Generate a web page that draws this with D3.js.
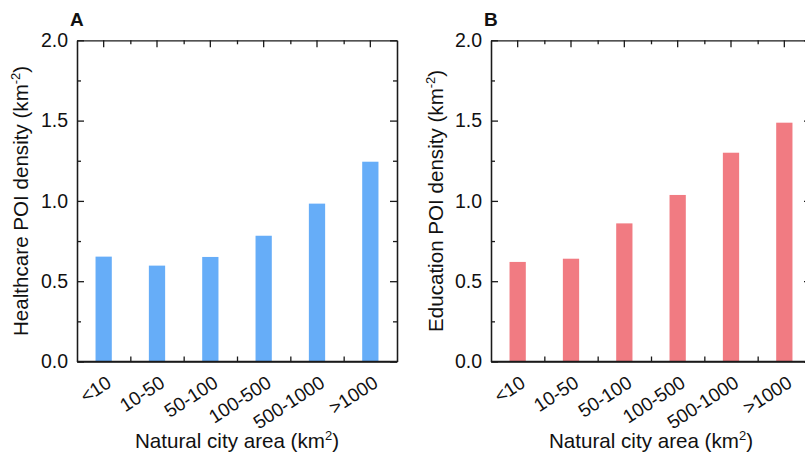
<!DOCTYPE html>
<html>
<head>
<meta charset="utf-8">
<script src="https://cdn.jsdelivr.net/npm/d3@7"></script>
<style>
  html, body { margin: 0; padding: 0; background: #fff; }
  svg { display: block; font-family: "Liberation Sans", Arial, sans-serif; }
</style>
</head>
<body>
<svg id="chart" width="805" height="454"></svg>
<script>
const categories = ["<10", "10-50", "50-100", "100-500", "500-1000", ">1000"];
const healthcareValues = [0.653, 0.597, 0.651, 0.783, 0.983, 1.244];
const educationValues = [0.620, 0.640, 0.860, 1.037, 1.300, 1.487];
const yMajorTicks = [0, 0.5, 1.0, 1.5, 2.0];
const yMinorTicks = [0.25, 0.75, 1.25, 1.75];
const panels = [
  { letter: "A", yTitle: "Healthcare POI density", values: healthcareValues, color: "#66adf8", left: 77, titleX: 28 },
  { letter: "B", yTitle: "Education POI density", values: educationValues, color: "#f17b82", left: 491, titleX: 443 }
];

const svg = d3.select("#chart");
const top_ = 40.3, bottom = 361.5, plotW = 320;
const axisColor = "#1a1a1a";
const textColor = "#111";

const y = d3.scaleLinear().domain([0, 2]).range([bottom, top_]);

panels.forEach(p => {
  const g = svg.append("g");
  const x = d3.scaleBand().domain(categories).range([p.left, p.left + plotW]).padding(0);
  const bw = x.bandwidth();
  const barW = bw * 0.305;
  const boundaries = d3.range(1, categories.length).map(i => p.left + i * bw);
  const bScale = d3.scaleLinear().domain([p.left, p.left + plotW]).range([p.left, p.left + plotW]);

  const styleAxis = sel => {
    sel.selectAll("path.domain").attr("stroke", axisColor).attr("stroke-width", 1.3);
    sel.selectAll(".tick line").attr("stroke", axisColor).attr("stroke-width", 1.3);
  };

  // left axis
  const left = g.append("g").attr("transform", `translate(${p.left},0)`)
    .call(d3.axisLeft(y).tickValues(yMajorTicks).tickSizeInner(-7).tickSizeOuter(0).tickPadding(9).tickFormat(d3.format(".1f")));
  styleAxis(left);
  left.selectAll("text").attr("font-size", 19.5).attr("fill", textColor);
  const leftMinor = g.append("g").attr("transform", `translate(${p.left},0)`)
    .call(d3.axisLeft(y).tickValues(yMinorTicks).tickSizeInner(-4).tickSizeOuter(0).tickFormat(""));
  styleAxis(leftMinor);

  // right axis
  const right = g.append("g").attr("transform", `translate(${p.left + plotW},0)`)
    .call(d3.axisRight(y).tickValues(yMajorTicks).tickSizeInner(-7).tickSizeOuter(0).tickFormat(""));
  styleAxis(right);
  const rightMinor = g.append("g").attr("transform", `translate(${p.left + plotW},0)`)
    .call(d3.axisRight(y).tickValues(yMinorTicks).tickSizeInner(-4).tickSizeOuter(0).tickFormat(""));
  styleAxis(rightMinor);

  // top axis
  const topAx = g.append("g").attr("transform", `translate(0,${top_})`)
    .call(d3.axisTop(x).tickSizeInner(-7).tickSizeOuter(0).tickFormat(""));
  styleAxis(topAx);
  const topMinor = g.append("g").attr("transform", `translate(0,${top_})`)
    .call(d3.axisTop(bScale).tickValues(boundaries).tickSizeInner(-4).tickSizeOuter(0).tickFormat(""));
  styleAxis(topMinor);
  topMinor.select("path.domain").remove();

  // bottom axis
  const botAx = g.append("g").attr("transform", `translate(0,${bottom})`)
    .call(d3.axisBottom(x).tickSizeInner(-7).tickSizeOuter(0).tickFormat(""));
  styleAxis(botAx);
  const botMinor = g.append("g").attr("transform", `translate(0,${bottom})`)
    .call(d3.axisBottom(bScale).tickValues(boundaries).tickSizeInner(-5).tickSizeOuter(0).tickFormat(""));
  styleAxis(botMinor);
  botMinor.select("path.domain").remove();

  // bars
  g.append("g").selectAll("rect").data(p.values).join("rect")
    .attr("x", (d, i) => x(categories[i]) + bw / 2 - barW / 2)
    .attr("width", barW)
    .attr("y", d => y(d))
    .attr("height", d => y(0) - y(d))
    .attr("fill", p.color);

  // redraw bottom domain on top of bars
  g.append("line").attr("x1", p.left).attr("x2", p.left + plotW)
    .attr("y1", bottom).attr("y2", bottom).attr("stroke", axisColor).attr("stroke-width", 1.3);

  // rotated category labels
  g.append("g").selectAll("text").data(categories).join("text")
    .attr("transform", d => `translate(${x(d) + bw / 2 + 9},${bottom + 24.5}) rotate(-33)`)
    .attr("text-anchor", "end")
    .attr("font-size", 19)
    .attr("fill", textColor)
    .text(d => d);

  // x title
  const xt = g.append("text")
    .attr("x", p.left + plotW / 2).attr("y", 448)
    .attr("text-anchor", "middle").attr("font-size", 20.6).attr("fill", textColor);
  xt.append("tspan").text("Natural city area (km");
  xt.append("tspan").attr("font-size", 13).attr("dy", -8).text("2");
  xt.append("tspan").attr("dy", 8).text(")");

  // y title
  const yt = g.append("text")
    .attr("transform", `translate(${p.titleX},${(top_ + bottom) / 2}) rotate(-90)`)
    .attr("text-anchor", "middle").attr("font-size", 20.6).attr("fill", textColor);
  yt.append("tspan").text(p.yTitle + " (km");
  yt.append("tspan").attr("font-size", 13).attr("dy", -8).text("-2");
  yt.append("tspan").attr("dy", 8).text(")");

  // panel letter
  g.append("text").attr("x", p.left - 7).attr("y", 26)
    .attr("font-size", 19).attr("font-weight", "bold").attr("fill", textColor)
    .text(p.letter);
});
</script>
</body>
</html>
